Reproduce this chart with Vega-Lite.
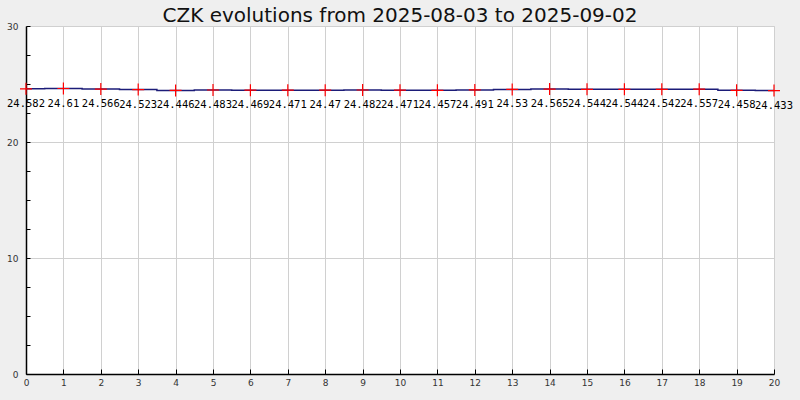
{
  "$schema": "https://vega.github.io/schema/vega-lite/v6.json",
  "width": 748,
  "height": 348,
  "autosize": {"type": "none"},
  "padding": {"left": 26, "top": 26, "right": 26, "bottom": 26},
  "background": "#efefef",
  "title": {"text": "CZK evolutions from 2025-08-03 to 2025-09-02", "font": "DejaVu Sans", "fontSize": 20, "fontWeight": "normal", "color": "#111111", "offset": -4},
  "config": {"view": {"fill": "white", "stroke": "#cccccc"}},
  "data": {"values": [
    {"x": 0, "v": 24.582, "t": "24.582"},
    {"x": 1, "v": 24.61, "t": "24.61"},
    {"x": 2, "v": 24.566, "t": "24.566"},
    {"x": 3, "v": 24.523, "t": "24.523"},
    {"x": 4, "v": 24.446, "t": "24.446"},
    {"x": 5, "v": 24.483, "t": "24.483"},
    {"x": 6, "v": 24.469, "t": "24.469"},
    {"x": 7, "v": 24.471, "t": "24.471"},
    {"x": 8, "v": 24.47, "t": "24.47"},
    {"x": 9, "v": 24.482, "t": "24.482"},
    {"x": 10, "v": 24.471, "t": "24.471"},
    {"x": 11, "v": 24.457, "t": "24.457"},
    {"x": 12, "v": 24.491, "t": "24.491"},
    {"x": 13, "v": 24.53, "t": "24.53"},
    {"x": 14, "v": 24.565, "t": "24.565"},
    {"x": 15, "v": 24.544, "t": "24.544"},
    {"x": 16, "v": 24.544, "t": "24.544"},
    {"x": 17, "v": 24.542, "t": "24.542"},
    {"x": 18, "v": 24.557, "t": "24.557"},
    {"x": 19, "v": 24.458, "t": "24.458"},
    {"x": 20, "v": 24.433, "t": "24.433"}
  ]},
  "encoding": {
    "x": {"field": "x", "type": "quantitative", "scale": {"domain": [0, 20], "nice": false, "zero": false},
      "axis": {"title": null, "values": [0,1,2,3,4,5,6,7,8,9,10,11,12,13,14,15,16,17,18,19,20], "tickSize": -5, "tickColor": "#000000", "domainColor": "#000000", "domainWidth": 1.5, "labelFont": "DejaVu Sans", "labelFontSize": 9, "labelColor": "#333333", "labelPadding": 9, "gridColor": "#d0d0d0", "labelFlush": false}},
    "y": {"field": "v", "type": "quantitative", "scale": {"domain": [0, 30], "nice": false},
      "axis": {"title": null, "values": [0,2.5,5,7.5,10,12.5,15,17.5,20,22.5,25,27.5,30], "labelExpr": "datum.value % 10 === 0 ? datum.label : ''", "tickSize": -4, "tickColor": "#000000", "domainColor": "#000000", "domainWidth": 1.5, "labelFont": "DejaVu Sans", "labelFontSize": 9, "labelColor": "#333333", "labelPadding": 12, "gridColor": "#d0d0d0", "gridOpacity": {"condition": {"test": "datum.value % 10 === 0", "value": 1}, "value": 0}, "labelFlush": false}}
  },
  "layer": [
    {"mark": {"type": "line", "interpolate": "step", "color": "#1c1c78", "strokeWidth": 1.5}},
    {"mark": {"type": "point", "shape": "M-1,0H1M0,-1V1", "filled": false, "stroke": "#ff0000", "strokeWidth": 1.2, "size": 144, "opacity": 1}},
    {"mark": {"type": "text", "font": "DejaVu Sans Mono", "fontSize": 10.5, "color": "#000000", "dy": 15, "baseline": "middle"}, "encoding": {"text": {"field": "t"}}}
  ]
}
